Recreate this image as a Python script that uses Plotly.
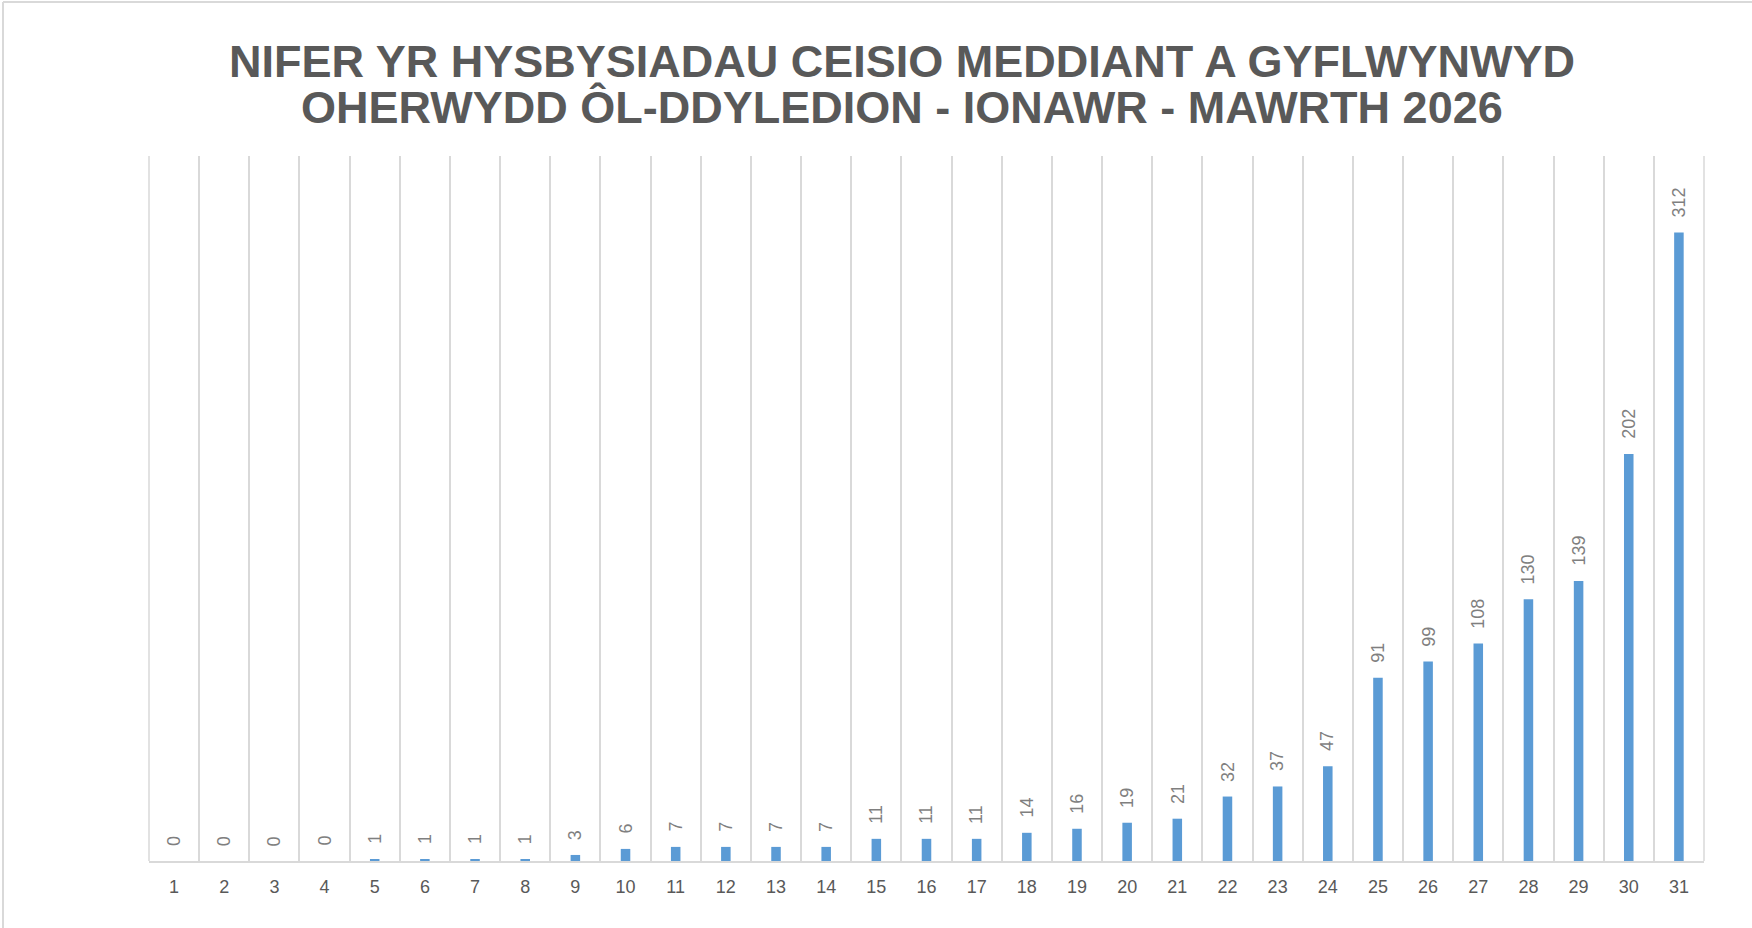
import plotly.graph_objects as go

days = [str(i) for i in range(1, 32)]
counts = [0, 0, 0, 0, 1, 1, 1, 1, 3, 6, 7, 7, 7, 7, 11, 11, 11, 14, 16, 19, 21,
          32, 37, 47, 91, 99, 108, 130, 139, 202, 312]
title_line1 = "NIFER YR HYSBYSIADAU CEISIO MEDDIANT A GYFLWYNWYD"
title_line2 = "OHERWYDD ÔL-DDYLEDION - IONAWR - MAWRTH 2026"

W, H = 1752, 928
L, R, T, B = 149, 48, 156, 67
pw, ph = W - L - R, H - T - B

FONT = "Liberation Sans, Arial, sans-serif"
GRID = "#D9D9D9"

fig = go.Figure()
fig.add_trace(go.Bar(
    x=days, y=counts,
    marker=dict(color="#5B9BD5", line=dict(width=0)),
    width=0.19,
    hoverinfo="x+y",
))

annotations = []
for i, v in enumerate(counts):
    annotations.append(dict(
        x=i, y=v, xref="x", yref="y",
        text=str(v), showarrow=False, textangle=-90,
        yanchor="bottom", xanchor="center", yshift=13,
        font=dict(family=FONT, size=18, color="#7F7F7F"),
    ))

tx = (902 - L) / pw
annotations.append(dict(
    x=tx, y=1 + (T - 108) / ph, xref="paper", yref="paper",
    text="<b>" + title_line2 + "</b>", showarrow=False,
    xanchor="center", yanchor="middle",
    font=dict(family=FONT, size=45, color="#595959"),
))

fig.update_layout(
    width=W, height=H,
    margin=dict(l=L, r=R, t=T, b=B),
    paper_bgcolor="white", plot_bgcolor="white",
    title=dict(
        text="<b>" + title_line1 + "</b>",
        x=902 / W, xref="container", xanchor="center",
        y=1 - 61 / H, yref="container", yanchor="middle",
        font=dict(family=FONT, size=45, color="#595959"),
    ),
    showlegend=False,
    annotations=annotations,
    shapes=[
        # chart frame (top and left visible)
        dict(type="line", xref="paper", yref="paper",
             x0=(3 - L) / pw, x1=(W + 10 - L) / pw,
             y0=1 + (T - 2) / ph, y1=1 + (T - 2) / ph,
             line=dict(color=GRID, width=2)),
        dict(type="line", xref="paper", yref="paper",
             x0=(3 - L) / pw, x1=(3 - L) / pw,
             y0=1 + (T - 2) / ph, y1=-(B + 10) / ph,
             line=dict(color=GRID, width=2)),
        # outer category boundary gridlines
        dict(type="line", xref="paper", yref="paper", x0=0, x1=0, y0=0, y1=1,
             line=dict(color=GRID, width=1.5), layer="below"),
        dict(type="line", xref="paper", yref="paper", x0=1, x1=1, y0=0, y1=1,
             line=dict(color=GRID, width=1.5), layer="below"),
    ],
    xaxis=dict(
        type="category",
        range=[-0.5, 30.5],
        tickson="boundaries",
        showgrid=True, gridcolor=GRID, gridwidth=1.5,
        showline=True, linecolor=GRID, linewidth=2,
        ticks="",
        ticklabelstandoff=8,
        tickfont=dict(family=FONT, size=18, color="#595959"),
        fixedrange=True,
    ),
    yaxis=dict(
        range=[0, 350],
        showgrid=False, zeroline=False, showline=False,
        showticklabels=False, ticks="",
        fixedrange=True,
    ),
)

fig.write_html(
    "out.html",
    config={"displayModeBar": False},
    post_script="document.body.style.margin='0';document.body.style.overflow='hidden';",
)
